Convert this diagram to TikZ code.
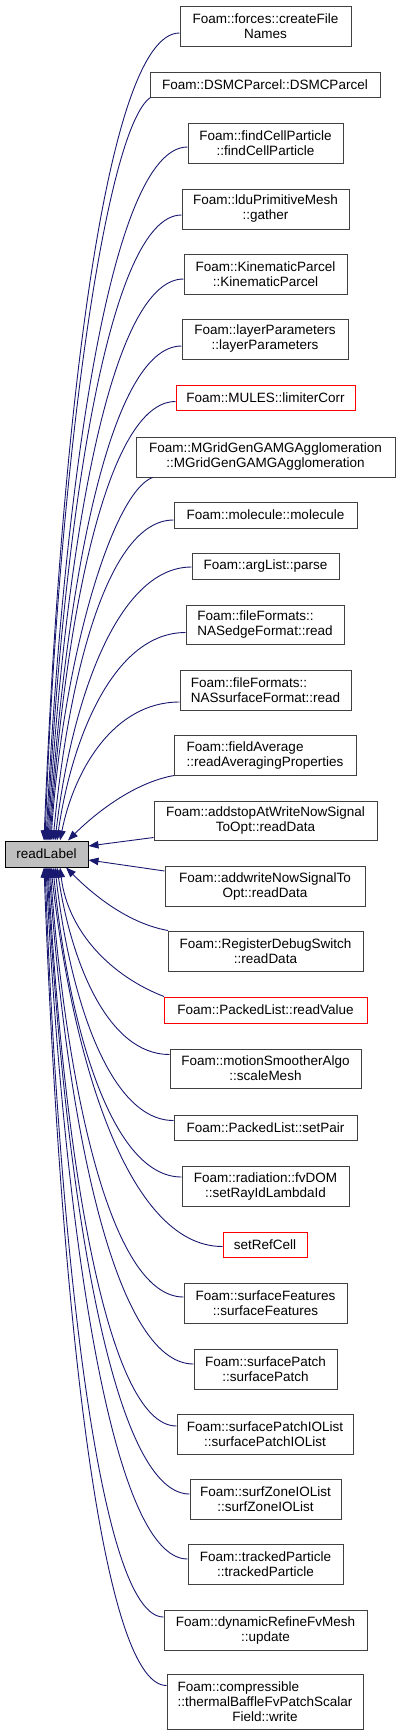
\documentclass[tikz,border=0pt]{standalone}
\usepackage{fontspec}
\setmainfont{Liberation Sans}
\usetikzlibrary{arrows.meta}
\definecolor{navyc}{HTML}{191970}
\definecolor{boxc}{HTML}{404040}
\definecolor{greyfill}{HTML}{BFBFBF}
\begin{document}
\begin{tikzpicture}[x=1pt,y=-1pt,
  fn/.style={draw=boxc, line width=1pt, fill=white, inner sep=0pt, align=center,
    font=\fontsize{13.5}{15}\selectfont},
  rfn/.style={fn, draw=red},
  cur/.style={fn, draw=black, fill=greyfill},
  conn/.style={draw=navyc, line width=0.9pt, -{Triangle[length=10pt,width=7.5pt]}}]
\useasboundingbox (0,0) rectangle (400,1735);
% nodes
\node[cur, minimum width=83pt, minimum height=26pt] (rl) at (46.5,854) {readLabel};
\node[fn, minimum width=171pt, minimum height=40pt] (b1) at (265.5,26) {Foam::forces::createFile\\Names};
\node[fn, minimum width=230pt, minimum height=25pt] (b2) at (265,84.5) {Foam::DSMCParcel::DSMCParcel};
\node[fn, minimum width=155pt, minimum height=40pt] (b3) at (265.5,143) {Foam::findCellParticle\\::findCellParticle};
\node[fn, minimum width=167pt, minimum height=40pt] (b4) at (265.5,209) {Foam::lduPrimitiveMesh\\::gather};
\node[fn, minimum width=163pt, minimum height=40pt] (b5) at (265.5,274) {Foam::KinematicParcel\\::KinematicParcel};
\node[fn, minimum width=166pt, minimum height=40pt] (b6) at (265,339) {Foam::layerParameters\\::layerParameters};
\node[rfn, minimum width=179pt, minimum height=25pt] (b7) at (265.5,397.5) {Foam::MULES::limiterCorr};
\node[fn, minimum width=259pt, minimum height=40pt] (b8) at (265.5,457) {Foam::MGridGenGAMGAgglomeration\\::MGridGenGAMGAgglomeration};
\node[fn, minimum width=183pt, minimum height=26pt] (b9) at (265.5,515) {Foam::molecule::molecule};
\node[fn, minimum width=147pt, minimum height=26pt] (b10) at (265.5,566) {Foam::argList::parse};
\node[fn, align=left, minimum width=158pt, minimum height=39pt] (b11) at (265,624.5) {Foam::fileFormats::\\NASedgeFormat::read};
\node[fn, align=left, minimum width=171pt, minimum height=40pt] (b12) at (265.5,690) {Foam::fileFormats::\\NASsurfaceFormat::read};
\node[fn, align=left, minimum width=182pt, minimum height=40pt] (b13) at (265,755) {Foam::fieldAverage\\::readAveragingProperties};
\node[fn, minimum width=223pt, minimum height=39pt] (b14) at (265.5,820.5) {Foam::addstopAtWriteNowSignal\\ToOpt::readData};
\node[fn, minimum width=200pt, minimum height=40pt] (b15) at (265,886) {Foam::addwriteNowSignalTo\\Opt::readData};
\node[fn, minimum width=195pt, minimum height=40pt] (b16) at (265.5,951) {Foam::RegisterDebugSwitch\\::readData};
\node[rfn, minimum width=203pt, minimum height=26pt] (b17) at (265.5,1010) {Foam::PackedList::readValue};
\node[fn, minimum width=191pt, minimum height=39pt] (b18) at (265.5,1068.5) {Foam::motionSmootherAlgo\\::scaleMesh};
\node[fn, minimum width=183pt, minimum height=25pt] (b19) at (265.5,1127.5) {Foam::PackedList::setPair};
\node[fn, minimum width=167pt, minimum height=40pt] (b20) at (265.5,1186) {Foam::radiation::fvDOM\\::setRayIdLambdaId};
\node[rfn, minimum width=84pt, minimum height=25pt] (b21) at (265,1244.5) {setRefCell};
\node[fn, minimum width=163pt, minimum height=40pt] (b22) at (265.5,1303) {Foam::surfaceFeatures\\::surfaceFeatures};
\node[fn, minimum width=143pt, minimum height=40pt] (b23) at (265.5,1369) {Foam::surfacePatch\\::surfacePatch};
\node[fn, minimum width=176pt, minimum height=40pt] (b24) at (265,1434) {Foam::surfacePatchIOList\\::surfacePatchIOList};
\node[fn, minimum width=151pt, minimum height=40pt] (b25) at (265.5,1499) {Foam::surfZoneIOList\\::surfZoneIOList};
\node[fn, minimum width=155pt, minimum height=40pt] (b26) at (265.5,1564) {Foam::trackedParticle\\::trackedParticle};
\node[fn, minimum width=203pt, minimum height=40pt] (b27) at (265.5,1630) {Foam::dynamicRefineFvMesh\\::update};
\node[fn, minimum width=196pt, minimum height=55pt] (b28) at (265,1701.5) {\rlap{Foam::compressible}\phantom{::thermalBaffleFvPatchScalar}\\::thermalBaffleFvPatchScalar\\Field::write};
% connectors (upper)
\draw[conn] ([yshift=-7pt]b1.west) .. controls +(-75,0) and +(16,-404) .. ([xshift=-2.5pt]rl.north);
\draw[conn] ([xshift=1pt]b2.south west) .. controls +(-45,30) and +(13,-372) .. ([xshift=-1.5pt]rl.north);
\draw[conn] ([yshift=-4pt]b3.west) .. controls +(-78,0) and +(17,-347) .. ([xshift=-0.5pt]rl.north);
\draw[conn] ([yshift=-6pt]b4.west) .. controls +(-74,0) and +(16,-313) .. ([xshift=0.5pt]rl.north);
\draw[conn] ([yshift=-5pt]b5.west) .. controls +(-75,0) and +(16,-281) .. ([xshift=1.5pt]rl.north);
\draw[conn] ([yshift=-7pt]b6.west) .. controls +(-73,0) and +(16,-248) .. ([xshift=2.5pt]rl.north);
\draw[conn] ([yshift=-4pt]b7.west) .. controls +(-69,0) and +(15,-220) .. ([xshift=3.5pt]rl.north);
\draw[conn] ([xshift=17pt]b8.south west) .. controls +(-40,15) and +(12,-182) .. ([xshift=4.5pt]rl.north);
\draw[conn] ([yshift=-5pt]b9.west) .. controls +(-67,0) and +(15,-160) .. ([xshift=6.5pt]rl.north);
\draw[conn] ([yshift=-1pt]b10.west) .. controls +(-75,0) and +(16,-137) .. ([xshift=8.5pt]rl.north);
\draw[conn] ([yshift=-8pt]b11.west) .. controls +(-71,0) and +(15,-104) .. ([xshift=10.5pt]rl.north);
\draw[conn] ([yshift=-12pt]b12.west) .. controls +(-66,0) and +(14,-70) .. ([xshift=13.5pt]rl.north);
\draw[conn] ([xshift=0.5pt]b13.south west) .. controls +(-45,8) and +(20,-20) .. ([xshift=21.5pt]rl.north);
% connectors (side)
\draw[conn] ([yshift=-17pt]b14.west) -- ([yshift=8pt]rl.east);
\draw[conn] ([yshift=15pt]b15.west) -- ([yshift=-6pt]rl.east);
% connectors (lower)
\draw[conn] ([xshift=0.5pt]b16.north west) .. controls +(-45,-8) and +(20,20) .. ([xshift=19.5pt]rl.south);
\draw[conn] ([xshift=0.5pt]b17.north west) .. controls +(-52,-20) and +(8,65) .. ([xshift=13.5pt]rl.south);
\draw[conn] ([yshift=14pt]b18.west) .. controls +(-62,0) and +(14,94) .. ([xshift=10.5pt]rl.south);
\draw[conn] ([yshift=7pt]b19.west) .. controls +(-65,0) and +(14,126) .. ([xshift=8.5pt]rl.south);
\draw[conn] ([yshift=9pt]b20.west) .. controls +(-71,0) and +(15,155) .. ([xshift=6.5pt]rl.south);
\draw[conn] ([yshift=-2pt]b21.west) .. controls +(-95,0) and +(21,190) .. ([xshift=4.5pt]rl.south);
\draw[conn] ([yshift=6pt]b22.west) .. controls +(-74,0) and +(16,215) .. ([xshift=3.5pt]rl.south);
\draw[conn] ([yshift=5pt]b23.west) .. controls +(-80,0) and +(17,248) .. ([xshift=2.5pt]rl.south);
\draw[conn] ([yshift=8pt]b24.west) .. controls +(-71,0) and +(15,280) .. ([xshift=1.5pt]rl.south);
\draw[conn] ([yshift=5pt]b25.west) .. controls +(-79,0) and +(17,314) .. ([xshift=0.5pt]rl.south);
\draw[conn] ([yshift=5pt]b26.west) .. controls +(-78,0) and +(17,346) .. ([xshift=-0.5pt]rl.south);
\draw[conn] ([yshift=13pt]b27.west) .. controls +(-65,0) and +(14,375) .. ([xshift=-1.5pt]rl.south);
\draw[conn] ([yshift=16pt]b28.west) .. controls +(-68,0) and +(15,409) .. ([xshift=-2.5pt]rl.south);
\end{tikzpicture}
\end{document}
